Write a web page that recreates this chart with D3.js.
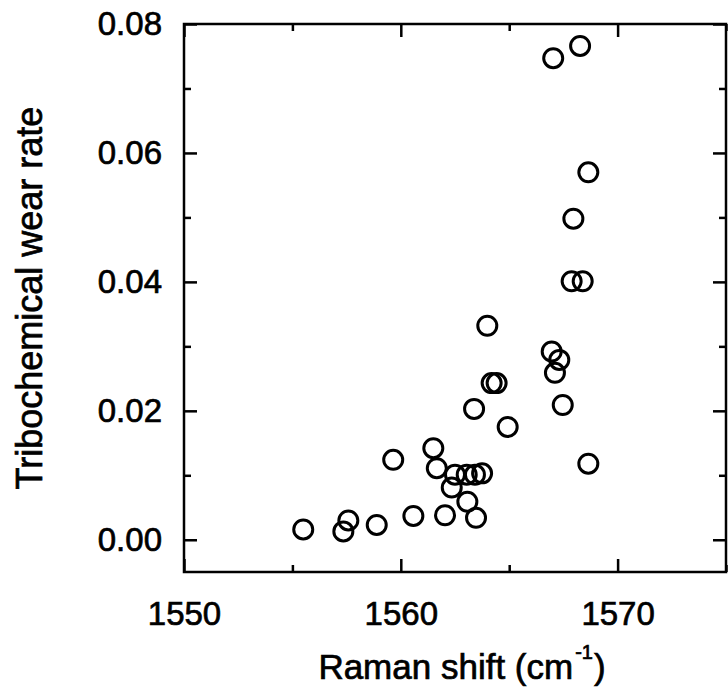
<!DOCTYPE html>
<html>
<head>
<meta charset="utf-8">
<script src="https://cdn.jsdelivr.net/npm/d3@7"></script>
<style>
  body { margin: 0; background: #fff; }
  text { font-family: "Liberation Sans", Arial, Helvetica, sans-serif; fill: #000; stroke: #000; stroke-width: 0.7px; }
</style>
</head>
<body>
<div id="chart"></div>
<script>
// Raman shift (cm-1) of each sample
const ramanShift = [
  1555.50, 1557.35, 1557.58, 1558.89, 1560.58, 1562.04, 1563.47, 1563.07,
  1562.35, 1561.66, 1561.50, 1559.65, 1562.50, 1563.04, 1563.42, 1563.75,
  1563.38, 1564.93, 1564.19, 1564.42, 1563.99, 1567.03, 1568.27, 1568.65,
  1567.96, 1567.88, 1568.39, 1566.96, 1567.31, 1567.11, 1567.47, 1568.65
];
// matching tribochemical wear rate
const wearRate = [
  0.0016, 0.0013, 0.0030, 0.0023, 0.0037, 0.0038, 0.0034, 0.0059,
  0.0081, 0.0111, 0.0142, 0.0124, 0.0101, 0.0101, 0.0101, 0.0103,
  0.0203, 0.0175, 0.0243, 0.0243, 0.0332, 0.0747, 0.0766, 0.0570,
  0.0498, 0.0401, 0.0401, 0.0292, 0.0279, 0.0259, 0.0209, 0.0118
];

const xMajor = [1550, 1560, 1570];
const xMinor = [1555, 1565, 1575];
const yMajor = [0.00, 0.02, 0.04, 0.06, 0.08];
const yMinor = [0.01, 0.03, 0.05, 0.07];

const xAxisTitle = 'Raman shift (cm';
const yAxisTitle = 'Tribochemical wear rate';

const figure_width = 728;
const figure_height = 695;
const plot = { left: 184, right: 726, top: 24, bottom: 572 };

const svg = d3.select('div#chart')
  .append('svg')
    .attr('width', figure_width)
    .attr('height', figure_height);

const x = d3.scaleLinear()
  .domain([1550, 1575])
  .range([plot.left, plot.right]);

const y = d3.scaleLinear()
  .domain([-0.005, 0.08])
  .range([plot.bottom, plot.top]);

const majorLen = 13, minorLen = 7;

// bottom axis, labelled, ticks pointing inward
svg.append('g')
  .attr('transform', 'translate(0,' + plot.bottom + ')')
  .call(d3.axisBottom(x).tickValues(xMajor).tickFormat(d3.format('d'))
    .tickSizeInner(-majorLen).tickSizeOuter(0).tickPadding(30))
  .call(g => g.select('.domain').remove())
  .call(g => g.selectAll('text').style('font-size', '33px'));
svg.append('g')
  .attr('transform', 'translate(0,' + plot.bottom + ')')
  .call(d3.axisBottom(x).tickValues(xMinor).tickFormat('').tickSizeInner(-minorLen).tickSizeOuter(0))
  .call(g => g.select('.domain').remove());

// top axis, ticks only
svg.append('g')
  .attr('transform', 'translate(0,' + plot.top + ')')
  .call(d3.axisTop(x).tickValues(xMajor).tickFormat('').tickSizeInner(-majorLen).tickSizeOuter(0))
  .call(g => g.select('.domain').remove());
svg.append('g')
  .attr('transform', 'translate(0,' + plot.top + ')')
  .call(d3.axisTop(x).tickValues(xMinor).tickFormat('').tickSizeInner(-minorLen).tickSizeOuter(0))
  .call(g => g.select('.domain').remove());

// left axis, labelled
svg.append('g')
  .attr('transform', 'translate(' + plot.left + ',0)')
  .call(d3.axisLeft(y).tickValues(yMajor).tickFormat(d3.format('.2f'))
    .tickSizeInner(-majorLen).tickSizeOuter(0).tickPadding(22))
  .call(g => g.select('.domain').remove())
  .call(g => g.selectAll('text').style('font-size', '33px'));
svg.append('g')
  .attr('transform', 'translate(' + plot.left + ',0)')
  .call(d3.axisLeft(y).tickValues(yMinor).tickFormat('').tickSizeInner(-minorLen).tickSizeOuter(0))
  .call(g => g.select('.domain').remove());

// right axis, ticks only
svg.append('g')
  .attr('transform', 'translate(' + plot.right + ',0)')
  .call(d3.axisRight(y).tickValues(yMajor).tickFormat('').tickSizeInner(-majorLen).tickSizeOuter(0))
  .call(g => g.select('.domain').remove());
svg.append('g')
  .attr('transform', 'translate(' + plot.right + ',0)')
  .call(d3.axisRight(y).tickValues(yMinor).tickFormat('').tickSizeInner(-minorLen).tickSizeOuter(0))
  .call(g => g.select('.domain').remove());

svg.selectAll('.tick line')
  .attr('stroke', '#000')
  .attr('stroke-width', 2.5);

// frame
svg.append('rect')
  .attr('x', plot.left)
  .attr('y', plot.top)
  .attr('width', plot.right - plot.left)
  .attr('height', plot.bottom - plot.top)
  .attr('fill', 'none')
  .attr('stroke', '#000')
  .attr('stroke-width', 2.5);

// points
svg.append('g')
  .selectAll('circle')
  .data(d3.range(ramanShift.length))
  .enter()
  .append('circle')
    .attr('cx', function (i) { return x(ramanShift[i]); })
    .attr('cy', function (i) { return y(wearRate[i]); })
    .attr('r', 9.5)
    .attr('fill', 'none')
    .attr('stroke', '#000')
    .attr('stroke-width', 3);

// axis titles
const xt = svg.append('text')
  .attr('x', 462)
  .attr('y', 679)
  .attr('text-anchor', 'middle')
  .style('font-size', '35px');
xt.append('tspan').text(xAxisTitle);
xt.append('tspan').text('-1').style('font-size', '20px').attr('dy', -20).attr('dx', 2);
xt.append('tspan').text(')').attr('dy', 20).attr('dx', 1);

svg.append('text')
  .attr('transform', 'translate(42,' + ((plot.top + plot.bottom) / 2) + ') rotate(-90)')
  .attr('text-anchor', 'middle')
  .style('font-size', '36px')
  .text(yAxisTitle);
</script>
</body>
</html>
